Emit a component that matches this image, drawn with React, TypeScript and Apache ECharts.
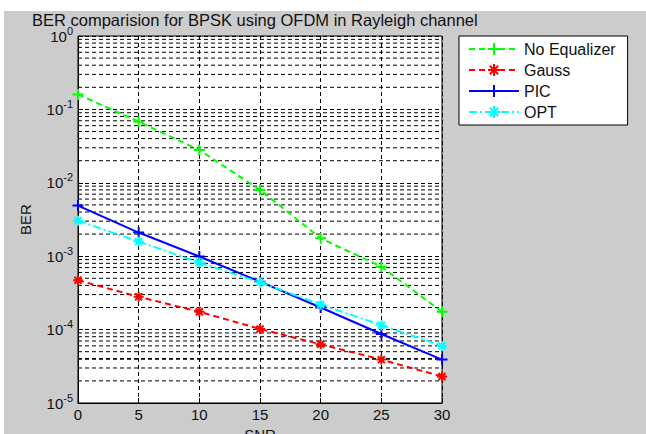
import React, { useEffect, useRef } from "react";
import * as echarts from "echarts";

const snr = [0, 5, 10, 15, 20, 25, 30];
const noEqualizer = [0.16, 0.068, 0.028, 0.008, 0.00175, 0.00072, 0.000175];
const gauss = [4.7e-4, 2.8e-4, 1.75e-4, 1.02e-4, 6.3e-5, 3.9e-5, 2.3e-5];
const pic = [4.9e-3, 2.1e-3, 9.9e-4, 4.5e-4, 2.0e-4, 8.7e-5, 3.9e-5];
const opt = [3.05e-3, 1.58e-3, 8.2e-4, 4.4e-4, 2.2e-4, 1.15e-4, 6.0e-5];
const seriesNames = ["No Equalizer", "Gauss", "PIC", "OPT"];
const decades = [1e-5, 1e-4, 1e-3, 1e-2, 1e-1];
const minorMultipliers = [2, 3, 4, 5, 6, 7, 8, 9];

const PLUS = "path://M5,0L5,10M0,5L10,5";
const STAR = "path://M5,0L5,10M0,5L10,5M1.5,1.5L8.5,8.5M1.5,8.5L8.5,1.5";

export default function App() {
  const ref = useRef<HTMLDivElement>(null);
  useEffect(() => {
    document.body.style.margin = "0";
    const chart = echarts.init(ref.current!, undefined, { renderer: "svg" });
    const pairs = (vals: number[]) => snr.map((x, i) => [x, vals[i]]);
    const minorValues: number[][] = [];
    decades.forEach((d) => minorMultipliers.forEach((m) => minorValues.push([0, d * m])));
    const font = "'Liberation Sans', Arial, sans-serif";
    chart.setOption({
      animation: false,
      backgroundColor: "#ffffff",
      textStyle: { fontFamily: font },
      graphic: [
        {
          type: "rect",
          silent: true,
          z: -100,
          shape: { x: 4, y: 11, width: 642, height: 423 },
          style: { fill: "#cccccc" },
        },
      ],
      title: {
        text: "BER comparision for BPSK using OFDM in Rayleigh channel",
        left: 32,
        top: 11,
        padding: 0,
        textStyle: { fontSize: 16.5, fontWeight: "normal", color: "#111", fontFamily: font },
      },
      legend: {
        data: seriesNames,
        orient: "vertical",
        left: 459,
        top: 36,
        padding: [5, 12, 5, 9],
        itemGap: 5,
        itemWidth: 50,
        itemHeight: 15,
        backgroundColor: "#fff",
        borderColor: "#000",
        borderWidth: 1,
        textStyle: { fontSize: 16, color: "#111", fontFamily: font },
      },
      grid: {
        left: 78,
        top: 36,
        width: 364,
        height: 367,
        show: true,
        backgroundColor: "#fff",
        borderColor: "#000",
        borderWidth: 1,
        outerBoundsMode: "none",
        containLabel: false,
      },
      xAxis: {
        type: "value",
        min: 0,
        max: 30,
        interval: 5,
        name: "SNR",
        nameLocation: "middle",
        nameGap: 24,
        nameTextStyle: { fontSize: 15, color: "#111" },
        axisLine: { lineStyle: { color: "#000" } },
        axisTick: { inside: true, length: 5, lineStyle: { color: "#000" } },
        axisLabel: { fontSize: 15, color: "#111", margin: 4 },
        splitLine: { show: true, lineStyle: { color: "#000", type: [4, 3] } },
      },
      yAxis: {
        type: "log",
        logBase: 10,
        min: 1e-5,
        max: 1,
        splitNumber: 5,
        name: "BER",
        nameLocation: "middle",
        nameGap: 45,
        nameTextStyle: { fontSize: 15, color: "#111" },
        axisLine: { lineStyle: { color: "#000" } },
        axisTick: { inside: true, length: 5, lineStyle: { color: "#000" } },
        axisLabel: {
          margin: 5,
          formatter: (v: number) => {
            const e = Math.round(Math.log10(v));
            return "{b|10}{s|" + (e === 0 ? "0" : String(e)) + "}";
          },
          rich: {
            b: { fontSize: 15, color: "#111", fontFamily: font },
            s: { fontSize: 11, color: "#111", fontFamily: font, padding: [0, 0, 11, 0] },
          },
        },
        splitLine: { show: true, lineStyle: { color: "#000", type: [4, 3] } },
      },
      series: [
        {
          name: "__minorgrid",
          type: "custom",
          silent: true,
          z: 1,
          data: minorValues,
          renderItem: (params: any, api: any) => {
            const cs = params.coordSys;
            const v = api.value(1);
            const p = api.coord([0, v]);
            const heavy = Math.abs(v - 4e-5) < 1e-9;
            return {
              type: "line",
              shape: { x1: cs.x, y1: p[1], x2: cs.x + cs.width, y2: p[1] },
              style: { stroke: "#000", lineWidth: heavy ? 1.7 : 1, lineDash: [4, 3] },
            };
          },
        },
        {
          name: "No Equalizer",
          type: "line",
          data: pairs(noEqualizer),
          symbol: PLUS,
          symbolSize: 11,
          itemStyle: { color: "#00ff00", borderColor: "#00ff00", borderWidth: 2 },
          lineStyle: { color: "#00ff00", width: 2, type: [6, 4] },
          z: 3,
        },
        {
          name: "Gauss",
          type: "line",
          data: pairs(gauss),
          symbol: STAR,
          symbolSize: 10,
          itemStyle: { color: "#ff0000", borderColor: "#ff0000", borderWidth: 2 },
          lineStyle: { color: "#ff0000", width: 2, type: [6, 4] },
          z: 3,
        },
        {
          name: "PIC",
          type: "line",
          data: pairs(pic),
          symbol: PLUS,
          symbolSize: 11,
          itemStyle: { color: "#0000ff", borderColor: "#0000ff", borderWidth: 2 },
          lineStyle: { color: "#0000ff", width: 2, type: "solid" },
          z: 3,
        },
        {
          name: "OPT",
          type: "line",
          data: pairs(opt),
          symbol: STAR,
          symbolSize: 10,
          itemStyle: { color: "#00ffff", borderColor: "#00ffff", borderWidth: 2 },
          lineStyle: { color: "#00ffff", width: 2, type: [8, 3, 2, 3] },
          z: 3,
        },
      ],
    });
    return () => chart.dispose();
  }, []);
  return <div ref={ref} style={{ width: 646, height: 434 }} />;
}
